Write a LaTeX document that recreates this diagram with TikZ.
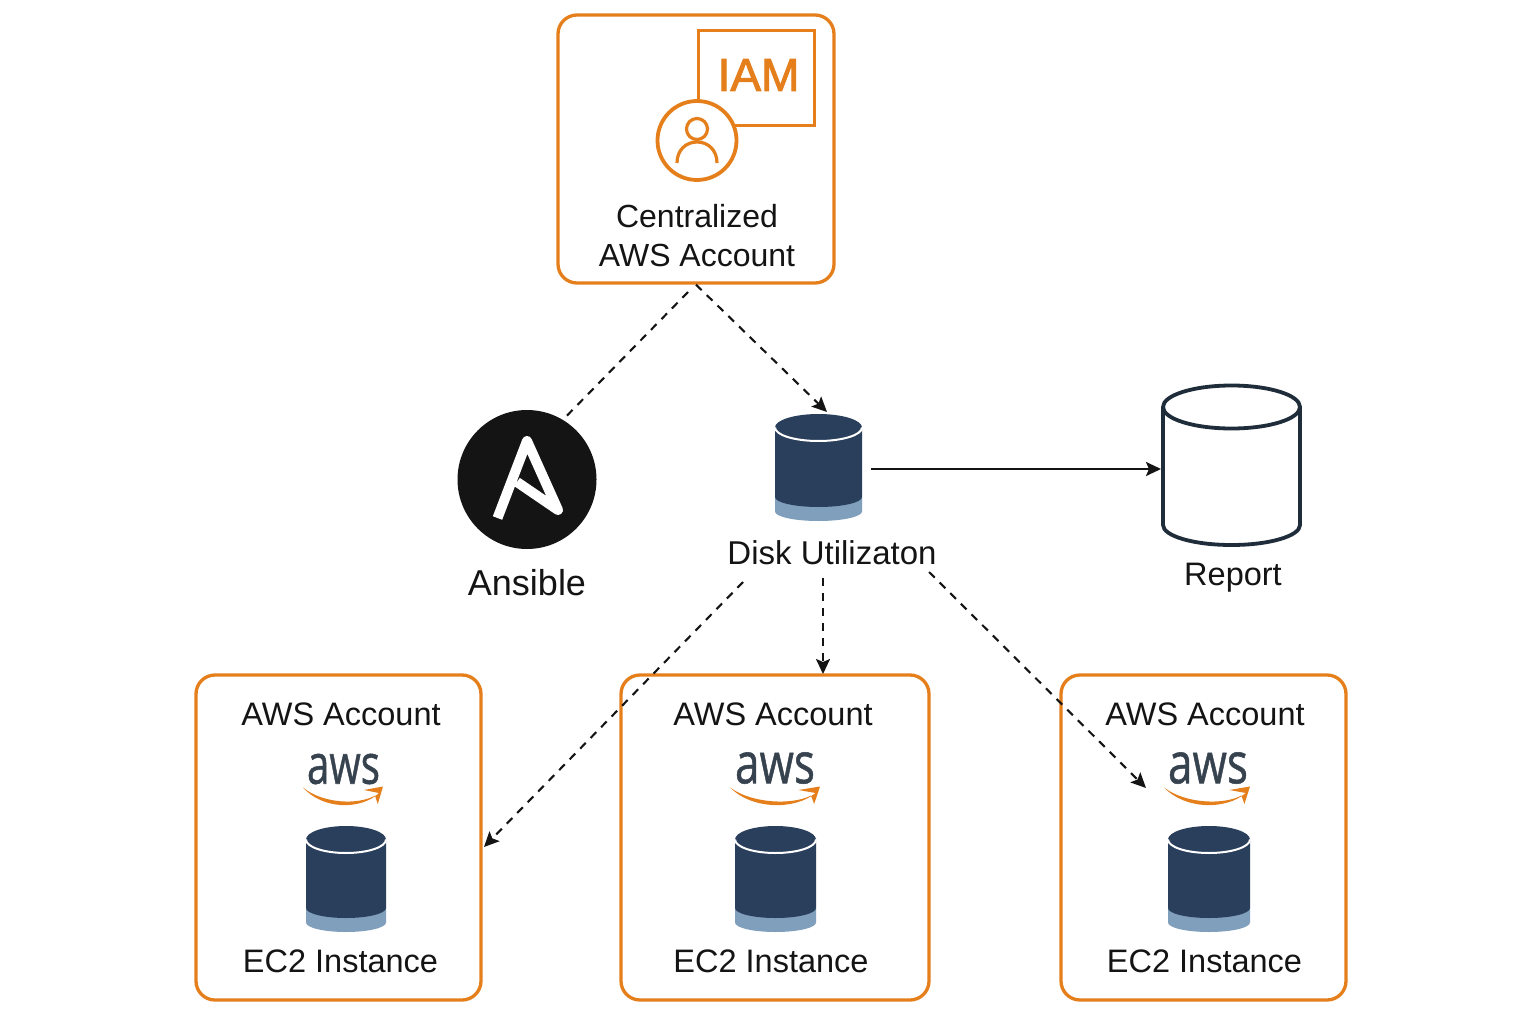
\documentclass[tikz,border=0pt]{standalone}
\usepackage{fontspec}
\setmainfont{Liberation Sans}
\newfontfamily\iamfont[FakeBold=2]{Liberation Sans}
\newfontfamily\awsfont[FakeBold=1]{Open Sans}
\usetikzlibrary{arrows.meta}
\definecolor{awsorange}{HTML}{E57F1C}
\definecolor{navy}{HTML}{2A3F5C}
\definecolor{band}{HTML}{7F9FBC}
\definecolor{ink}{HTML}{141414}
\definecolor{slate}{HTML}{1F2D3B}
\definecolor{awsgrey}{HTML}{37424F}
\tikzset{
  x=1pt,y=-1pt,
  box/.style={draw=awsorange,line width=3.3pt,rounded corners=19pt,inner sep=0pt,fill=none},
  ghost/.style={inner sep=0pt,outer sep=0pt,draw=none},
  lbl/.style={inner sep=0pt,text=ink,font=\fontsize{32.5}{39}\selectfont,align=center},
  dashline/.style={draw=ink,line width=2.1pt,dash pattern=on 8pt off 7pt},
  tip/.style={-{Stealth[length=15pt,width=14pt,inset=3pt]}},
}
% centre x, half width, top y, ry, y of dark edge end, y of band edge end
\newcommand{\dbicon}[6]{%
  \fill[band] (#1-#2,#5) -- (#1-#2,#6) arc[start angle=180,end angle=360,x radius=#2,y radius=-9.5] -- (#1+#2,#5) -- cycle;
  \fill[navy] (#1-#2,#3+#4) -- (#1-#2,#5) arc[start angle=180,end angle=360,x radius=#2,y radius=-10] -- (#1+#2,#3+#4) -- cycle;
  \fill[navy] (#1,#3+#4) ellipse[x radius=#2,y radius=#4];
  \draw[white,line width=2pt] (#1-#2,#3+#4) arc[start angle=180,end angle=360,x radius=#2,y radius=-#4];
}
% centre x, half width of smile
\newcommand{\smileicon}[2]{%
  \fill[awsorange] (#1-#2,787.5) .. controls (#1-#2*0.5,810) and (#1+#2*0.45,810) .. (#1+#2*0.90,793)
     -- (#1+#2*0.52,790) -- (#1+#2,786.5) -- (#1+#2*0.87,804) -- (#1+#2*0.80,795.5)
     .. controls (#1+#2*0.4,805) and (#1-#2*0.5,804) .. cycle;
}
\begin{document}
\begin{tikzpicture}
\useasboundingbox (0,0) rectangle (1536,1024);
\fill[white] (0,0) rectangle (1536,1024);

% top account
\node[box,minimum width=276pt,minimum height=268pt] (central) at (696,149) {};
\node[draw=awsorange,line width=3.6pt,minimum width=116pt,minimum height=95pt,inner sep=0pt] (iambox) at (756.5,78) {};
\node[inner sep=0pt,text=awsorange,font=\iamfont\fontsize{46}{46}\selectfont] (iamtext) at (758.5,75) {IAM};
\node[circle,draw=awsorange,fill=white,line width=3.8pt,minimum size=79pt,inner sep=0pt] (person) at (697,140.5) {};
\draw[awsorange,line width=3.2pt] (697,129) circle[radius=10.5];
\draw[awsorange,line width=3.2pt] (677,163) .. controls (677,150) and (686,142) .. (697,142) .. controls (708,142) and (717,150) .. (717,163);
\node[lbl,font=\fontsize{32}{39}\selectfont] (centraltext) at (697,235.5) {Centralized\\[0pt]AWS Account};

% ansible
\node[circle,fill=ink,minimum size=139pt,inner sep=0pt] (ansible) at (527,479.5) {};
\draw[white,line width=10pt,line join=round] (497.5,518) -- (527,441) -- (558,510) -- (517,482);
\node[lbl,font=\fontsize{36}{42}\selectfont] (ansibletext) at (527,583) {Ansible};

% disk utilization
\node[ghost,minimum width=87pt,minimum height=110pt,outer xsep=9pt] (disk) at (818.5,469) {};
\dbicon{818.5}{43.5}{414}{13.5}{497}{511.5}
\node[lbl,font=\fontsize{33}{40}\selectfont] (disktext) at (832,553) {Disk Utilizaton};

% report
\node[ghost,minimum width=141pt,minimum height=160pt] (report) at (1231.5,469) {};
\draw[slate,line width=3.8pt,fill=white,line join=round] (1163,407) -- (1163,525) arc[start angle=180,end angle=360,x radius=68.5,y radius=-20] -- (1300,407);
\draw[slate,line width=3.8pt,fill=white] (1231.5,407) ellipse[x radius=68.5,y radius=21.5];
\node[lbl] (reporttext) at (1233,578) {Report};

% bottom accounts
\node[box,minimum width=285pt,minimum height=325pt] (acctA) at (338.5,837.5) {};
\node[box,minimum width=308pt,minimum height=325pt] (acctB) at (775,837.5) {};
\node[box,minimum width=285pt,minimum height=325pt] (acctC) at (1203.5,837.5) {};

\node[lbl] (acctAtext) at (341,714) {AWS Account};
\node[lbl] (acctBtext) at (773,714) {AWS Account};
\node[lbl] (acctCtext) at (1205,714) {AWS Account};

\node[inner sep=0pt,text=awsgrey] (awsA) at (343.5,769) {\resizebox{73pt}{30pt}{\awsfont aws}};
\node[inner sep=0pt,text=awsgrey] (awsB) at (775,768) {\resizebox{80pt}{31pt}{\awsfont aws}};
\node[inner sep=0pt,text=awsgrey] (awsC) at (1208,768) {\resizebox{80pt}{31pt}{\awsfont aws}};
\smileicon{343}{40}
\smileicon{775}{45}
\smileicon{1207}{43}

\dbicon{346}{40}{826}{13.5}{908}{922.5}
\dbicon{775.5}{40.5}{826}{13.5}{908}{922.5}
\dbicon{1209}{41}{826}{13.5}{908}{922.5}

\node[lbl] (ec2Atext) at (340.5,961) {EC2 Instance};
\node[lbl] (ec2Btext) at (771,961) {EC2 Instance};
\node[lbl] (ec2Ctext) at (1204.5,961) {EC2 Instance};

% connector ends
\coordinate (cAnsOut) at (688,292);
\coordinate (cDiskIn) at (827,412);
\coordinate (cDownA) at (743,582);
\coordinate (cDownB) at (823,578);
\coordinate (cDownC) at (929,572);
\coordinate (cInA) at (484,847);
\coordinate (cInB) at (823,674);
\coordinate (cInC) at (1146,788);

\draw[dashline] (cAnsOut) -- (ansible.59);
\draw[dashline,tip] (central.south) -- (cDiskIn);
\draw[draw=ink,line width=2pt,tip] (disk.east) -- (report.west);
\draw[dashline,tip] (cDownA) -- (cInA);
\draw[dashline,tip] (cDownB) -- (cInB);
\draw[dashline,tip] (cDownC) -- (cInC);
\end{tikzpicture}
\end{document}
